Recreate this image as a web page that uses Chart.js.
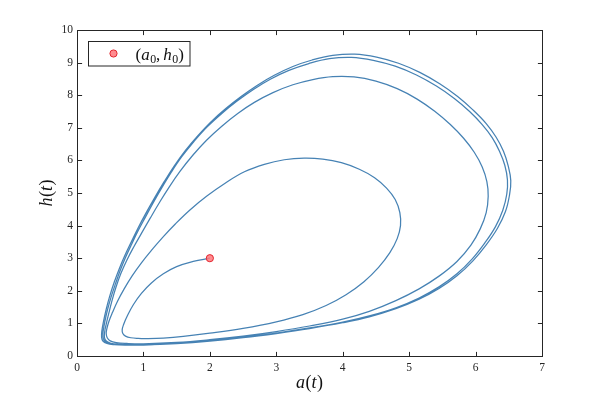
<!DOCTYPE html>
<html><head><meta charset="utf-8">
<script src="https://cdn.jsdelivr.net/npm/chart.js@4/dist/chart.umd.min.js"></script>
<style>html,body{margin:0;padding:0;background:#fff;}</style>
</head><body>
<canvas id="c" width="599" height="400"></canvas>
<script>
// ---- data ----
const xTicks = [0,1,2,3,4,5,6,7];
const yTicks = [0,1,2,3,4,5,6,7,8,9,10];
const startA = [2.0];
const startH = [3.0];
const legendLabel = '(a₀, h₀)';
const xLabel = 'a(t)';
const yLabel = 'h(t)';

// initial transient from (a0,h0)
const seg1A = [2.00,1.75,1.50,1.30,1.12,0.97,0.85,0.76,0.70,0.68,0.69,0.73,0.81,0.92,1.05];
const seg1H = [3.00,2.90,2.74,2.52,2.24,1.92,1.58,1.24,0.96,0.80,0.69,0.61,0.56,0.54,0.535];
// first loop (max h ≈ 6.06)
const seg2A = [1.30,1.60,2.00,2.50,3.00,3.40,3.75,4.05,4.32,4.54,4.71,4.82,4.87,4.86,4.79,4.66,4.48,4.25,3.98,3.70,3.42,3.12,2.82,2.52,2.23,1.95,1.70,1.48,1.29,1.12,0.97,0.83,0.71,0.61,0.535,0.48,0.45,0.44,0.455,0.50,0.59,0.75,1.00];
const seg2H = [0.55,0.60,0.70,0.85,1.05,1.27,1.55,1.88,2.28,2.72,3.17,3.60,4.00,4.40,4.80,5.15,5.47,5.73,5.93,6.04,6.07,6.02,5.88,5.65,5.30,4.90,4.48,4.05,3.64,3.24,2.86,2.46,2.06,1.68,1.34,1.06,0.84,0.68,0.56,0.465,0.41,0.385,0.375];
// second loop (max h ≈ 8.57)
const seg3A = [1.50,2.00,2.50,3.00,3.50,4.00,4.40,4.80,5.15,5.45,5.72,5.93,6.07,6.16,6.19,6.17,6.10,5.98,5.82,5.62,5.39,5.12,4.82,4.50,4.17,3.85,3.55,3.25,2.95,2.67,2.42,2.18,1.95,1.74,1.55,1.38,1.23,1.10,0.97,0.85,0.75,0.66,0.59,0.53,0.48,0.44,0.415,0.415,0.445,0.51,0.63,0.80,1.00];
const seg3H = [0.415,0.50,0.61,0.75,0.92,1.13,1.37,1.70,2.06,2.45,2.90,3.40,3.90,4.40,4.90,5.35,5.80,6.25,6.68,7.10,7.50,7.88,8.20,8.43,8.56,8.57,8.48,8.32,8.08,7.78,7.44,7.05,6.62,6.15,5.66,5.16,4.67,4.22,3.76,3.33,2.94,2.53,2.13,1.72,1.32,0.98,0.72,0.55,0.45,0.39,0.36,0.35,0.35];
// third loop (max h ≈ 9.17)
const seg4A = [1.50,2.00,2.50,3.00,3.50,4.00,4.40,4.80,5.15,5.45,5.72,5.95,6.14,6.30,6.41,6.47,6.48,6.44,6.36,6.25,6.10,5.91,5.68,5.41,5.11,4.79,4.46,4.13,3.80,3.49,3.19,2.91,2.65,2.41,2.18,1.96,1.76,1.58,1.42,1.28,1.15,1.03,0.92,0.82,0.73,0.65,0.58,0.515,0.46,0.42,0.395,0.39,0.41,0.47,0.57,0.75,1.00];
const seg4H = [0.39,0.47,0.575,0.705,0.86,1.04,1.23,1.48,1.78,2.12,2.52,2.98,3.47,3.97,4.47,4.97,5.40,5.85,6.28,6.70,7.10,7.50,7.90,8.28,8.62,8.89,9.07,9.16,9.12,8.97,8.76,8.49,8.17,7.82,7.44,7.03,6.58,6.12,5.64,5.17,4.71,4.26,3.84,3.42,3.02,2.62,2.22,1.82,1.42,1.06,0.78,0.60,0.48,0.40,0.36,0.345,0.34];
// limit cycle (max h ≈ 9.27)
const seg5A = [1.50,2.00,2.50,3.00,3.50,4.00,4.40,4.80,5.15,5.45,5.72,5.96,6.16,6.33,6.45,6.51,6.53,6.49,6.42,6.31,6.16,5.96,5.73,5.46,5.16,4.84,4.51,4.18,3.85,3.54,3.25,2.97,2.71,2.47,2.24,2.02,1.82,1.63,1.46,1.31,1.17,1.04,0.925,0.82,0.72,0.635,0.56,0.495,0.44,0.40,0.375,0.37,0.39,0.45,0.56,0.75,1.00];
const seg5H = [0.38,0.455,0.56,0.69,0.84,1.02,1.20,1.45,1.74,2.07,2.46,2.92,3.41,3.92,4.43,4.93,5.38,5.84,6.28,6.71,7.13,7.55,7.96,8.35,8.70,8.98,9.17,9.26,9.22,9.08,8.88,8.61,8.30,7.96,7.59,7.19,6.76,6.30,5.82,5.34,4.86,4.39,3.95,3.51,3.08,2.67,2.26,1.85,1.44,1.07,0.78,0.58,0.46,0.385,0.35,0.335,0.335];

// ---- build ----
const trajA = [].concat(seg1A, seg2A, seg3A, seg4A, seg5A, seg5A);
const trajH = [].concat(seg1H, seg2H, seg3H, seg4H, seg5H, seg5H);
const trajPts = trajA.map((a,i)=>({x:a, y:trajH[i]}));
const startPts = startA.map((a,i)=>({x:a, y:startH[i]}));

const SERIF = '"Liberation Serif", "DejaVu Serif", serif';
const AX = '#262626';

function splitMath(str){
  const parts=[];
  for (const ch of str){
    const sub='₀₁₂₃₄₅₆₇₈₉'.indexOf(ch);
    if (sub>=0) parts.push({t:String(sub), s:'sub'});
    else if (/[a-zA-Z]/.test(ch)) parts.push({t:ch, s:'it'});
    else if (ch===' ') parts.push({t:' ', s:'thin'});
    else parts.push({t:ch, s:'rm'});
  }
  return parts;
}
function fontFor(p,size){
  if (p.s==='it') return 'italic '+size+'px '+SERIF;
  if (p.s==='sub') return (size*0.7).toFixed(1)+'px '+SERIF;
  return size+'px '+SERIF;
}
function mathWidth(ctx,parts,size){
  let w=0;
  for(const p of parts){
    if(p.s==='thin'){w+=size*0.17;continue;}
    ctx.font=fontFor(p,size); w+=ctx.measureText(p.t).width + (p.s==='it'?size*0.03:0);
  }
  return w;
}
function drawMath(ctx,str,x,y,size,align){
  const parts=splitMath(str);
  const w=mathWidth(ctx,parts,size);
  let cx = align==='center'? x-w/2 : x;
  ctx.textBaseline='alphabetic'; ctx.textAlign='left'; ctx.fillStyle='#111';
  for(const p of parts){
    if(p.s==='thin'){cx+=size*0.17;continue;}
    ctx.font=fontFor(p,size);
    const dy = p.s==='sub'? size*0.22 : 0;
    ctx.fillText(p.t,cx,y+dy);
    cx+=ctx.measureText(p.t).width + (p.s==='it'?size*0.03:0);
  }
}

const framePlugin = {
  id:'frame',
  afterDatasetsDraw(chart){
    const {ctx, chartArea:ca, scales:{x,y}} = chart;
    ctx.save();
    ctx.strokeStyle=AX; ctx.lineWidth=1;
    const L=Math.round(ca.left)+0.5, R=Math.round(ca.right)+0.5, T=Math.round(ca.top)+0.5, B=Math.round(ca.bottom)+0.5;
    ctx.strokeRect(L,T,R-L,B-T);
    const tl=4.6;
    ctx.beginPath();
    for(const v of xTicks){
      const px=Math.round(x.getPixelForValue(v))+0.5;
      ctx.moveTo(px,B); ctx.lineTo(px,B-tl);
      ctx.moveTo(px,T); ctx.lineTo(px,T+tl);
    }
    for(const v of yTicks){
      const py=Math.round(y.getPixelForValue(v))+0.5;
      ctx.moveTo(L,py); ctx.lineTo(L+tl,py);
      ctx.moveTo(R,py); ctx.lineTo(R-tl,py);
    }
    ctx.stroke();
    ctx.restore();
  },
  afterDraw(chart){
    const {ctx, chartArea:ca} = chart;
    ctx.save();
    drawMath(ctx, xLabel, (ca.left+ca.right)/2, ca.bottom+32, 18, 'center');
    ctx.save();
    ctx.translate(ca.left-25, (ca.top+ca.bottom)/2);
    ctx.rotate(-Math.PI/2);
    drawMath(ctx, yLabel, 0, 0, 18, 'center');
    ctx.restore();
    const bx=Math.round(ca.left)+11.5, by=Math.round(ca.top)+11.5;
    ctx.fillStyle='#fff'; ctx.fillRect(bx,by,101.5,24.5);
    ctx.strokeStyle=AX; ctx.lineWidth=1; ctx.strokeRect(bx,by,101.5,24.5);
    ctx.beginPath(); ctx.arc(bx+25,by+12,3.6,0,Math.PI*2);
    ctx.fillStyle='rgba(255,120,125,0.85)'; ctx.fill();
    ctx.strokeStyle='#e3262f'; ctx.lineWidth=1; ctx.stroke();
    drawMath(ctx, legendLabel, bx+47, by+18, 17, 'left');
    ctx.restore();
  }
};

const tickFont = {family: SERIF, size: 11.5};
new Chart(document.getElementById('c'), {
  type:'scatter',
  data:{datasets:[
    {label:legendLabel, data:startPts, pointRadius:3.6, pointHoverRadius:3.6,
     backgroundColor:'rgba(255,120,125,0.85)', borderColor:'#e3262f', borderWidth:1, showLine:false},
    {label:'trajectory', data:trajPts, showLine:true, pointRadius:0, borderColor:'#4682B4',
     borderWidth:1.25, tension:0.4, fill:false}
  ]},
  options:{
    responsive:false, animation:false, devicePixelRatio:1,
    layout:{padding:{left:0,right:57,top:30,bottom:0}},
    plugins:{legend:{display:false}, tooltip:{enabled:false}},
    scales:{
      x:{type:'linear', min:0, max:7,
        afterFit(s){ s.height=44; },
        afterBuildTicks(s){ s.ticks = xTicks.map(v=>({value:v})); },
        ticks:{font:tickFont, color:AX, padding:5, autoSkip:false, maxRotation:0, callback:v=>String(v)},
        grid:{display:false, drawTicks:false}, border:{display:false}},
      y:{type:'linear', min:0, max:10,
        afterFit(s){ s.width=77; },
        afterBuildTicks(s){ s.ticks = yTicks.map(v=>({value:v})); },
        ticks:{font:tickFont, color:AX, padding:4, autoSkip:false, callback:v=>String(v)},
        grid:{display:false, drawTicks:false}, border:{display:false}}
    }
  },
  plugins:[framePlugin]
});
</script>
</body></html>
